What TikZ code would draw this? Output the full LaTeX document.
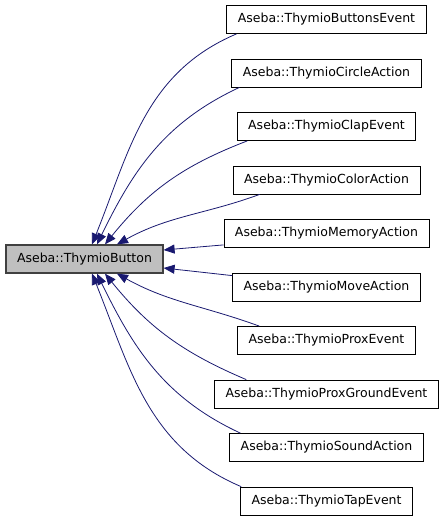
\documentclass[tikz,border=0pt]{standalone}
\usepackage{fontspec}
\setmainfont{DejaVu Sans}
\usetikzlibrary{arrows.meta}
\definecolor{edgeblue}{HTML}{191970}
\definecolor{basefill}{HTML}{BFBFBF}
\definecolor{basedraw}{HTML}{404040}

\begin{document}
\begin{tikzpicture}[x=1pt,y=-1pt,
  cls/.style={draw=black,fill=white,line width=0.8pt,minimum height=28pt,
    inner xsep=11pt,inner ysep=0pt,font=\fontsize{12.5}{14}\selectfont},
  basecls/.style={cls,fill=basefill,draw=basedraw,line width=1.3pt},
  inh/.style={draw=edgeblue,line width=0.8pt,-{Triangle[length=11pt,width=9pt]}}]
 \useasboundingbox(0,0) rectangle (445,520);
 % base class
 \node[basecls] (btn) at (84.5,259) {Aseba::ThymioButton};
 % derived classes
 \node[cls] (buttons) at (326.5,19.5) {Aseba::ThymioButtonsEvent};
 \node[cls] (circle) at (326.5,73) {Aseba::ThymioCircleAction};
 \node[cls] (clap) at (326.5,126.5) {Aseba::ThymioClapEvent};
 \node[cls] (color) at (326.5,180) {Aseba::ThymioColorAction};
 \node[cls] (memory) at (326.5,233.5) {Aseba::ThymioMemoryAction};
 \node[cls] (move) at (326.5,287) {Aseba::ThymioMoveAction};
 \node[cls] (prox) at (326.5,340.5) {Aseba::ThymioProxEvent};
 \node[cls] (ground) at (326.5,394) {Aseba::ThymioProxGroundEvent};
 \node[cls] (sound) at (326.5,447.5) {Aseba::ThymioSoundAction};
 \node[cls] (tap) at (326.5,501) {Aseba::ThymioTapEvent};
 % inheritance arrows
 \draw[inh]([xshift=10pt]buttons.south west) to[out=203,in=68] ([xshift=7.5pt]btn.north);
 \draw[inh]([xshift=8pt]circle.south west) to[out=205,in=64] ([xshift=12.5pt]btn.north);
 \draw[inh]([xshift=10.5pt]clap.south west) to[out=201,in=51] ([xshift=20.5pt]btn.north);
 \draw[inh]([xshift=27pt]color.south west) to[out=200,in=29] ([xshift=32.5pt]btn.north);
 \draw[inh]([yshift=3pt]memory.south west) -- ([yshift=9pt]btn.east);
 \draw[inh]([yshift=-3pt]move.north west) -- ([yshift=-9pt]btn.east);
 \draw[inh]([xshift=22pt]prox.north west) to[out=160,in=-29] ([xshift=32.5pt]btn.south);
 \draw[inh]([xshift=32pt]ground.north west) to[out=157,in=-51] ([xshift=20.5pt]btn.south);
 \draw[inh]([xshift=11pt]sound.north west) to[out=155,in=-64] ([xshift=12.5pt]btn.south);
 \draw[inh]([xshift=1pt]tap.north west) to[out=157,in=-68] ([xshift=7.5pt]btn.south);
\end{tikzpicture}
\end{document}
